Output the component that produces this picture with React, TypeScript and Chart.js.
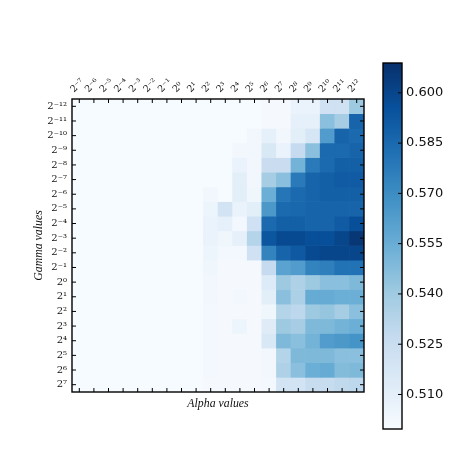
import { useEffect, useRef } from "react";
import { Chart, registerables } from "chart.js";

Chart.register(...registerables);

const alphaLabels = ["2⁻⁷", "2⁻⁶", "2⁻⁵", "2⁻⁴", "2⁻³", "2⁻²", "2⁻¹", "2⁰", "2¹", "2²", "2³", "2⁴", "2⁵", "2⁶", "2⁷", "2⁸", "2⁹", "2¹⁰", "2¹¹", "2¹²"];
const gammaLabels = ["2⁻¹²", "2⁻¹¹", "2⁻¹⁰", "2⁻⁹", "2⁻⁸", "2⁻⁷", "2⁻⁶", "2⁻⁵", "2⁻⁴", "2⁻³", "2⁻²", "2⁻¹", "2⁰", "2¹", "2²", "2³", "2⁴", "2⁵", "2⁶", "2⁷"];

// one row per gamma, one column per alpha
const scores = [
  [.5, .5, .5, .5, .5, .5, .5, .5, .5, .5, .5, .5, .5, .501, .501, .507, .507, .522, .522, .541],
  [.5, .5, .5, .5, .5, .5, .5, .5, .5, .5, .5, .5, .5, .501, .501, .509, .509, .546, .538, .587],
  [.5, .5, .5, .5, .5, .5, .5, .5, .5, .5, .5, .5, .503, .509, .503, .511, .518, .563, .587, .585],
  [.5, .5, .5, .5, .5, .5, .5, .5, .5, .5, .5, .503, .503, .516, .507, .527, .546, .585, .585, .587],
  [.5, .5, .5, .5, .5, .5, .5, .5, .5, .5, .5, .507, .503, .525, .525, .552, .578, .585, .589, .589],
  [.5, .5, .5, .5, .5, .5, .5, .5, .5, .5, .5, .511, .503, .538, .546, .578, .587, .589, .591, .591],
  [.5, .5, .5, .5, .5, .5, .5, .5, .5, .503, .5, .511, .504, .554, .58, .585, .587, .589, .589, .589],
  [.5, .5, .5, .5, .5, .5, .5, .5, .5, .505, .52, .507, .511, .565, .585, .586, .587, .587, .587, .587],
  [.5, .5, .5, .5, .5, .5, .5, .5, .5, .507, .509, .502, .522, .585, .589, .589, .587, .587, .591, .596],
  [.5, .5, .5, .5, .5, .5, .5, .5, .5, .507, .504, .509, .533, .593, .598, .598, .596, .596, .6, .606],
  [.5, .5, .5, .5, .5, .5, .5, .5, .5, .505, .502, .502, .522, .574, .587, .592, .598, .6, .6, .6],
  [.5, .5, .5, .5, .5, .5, .5, .5, .5, .504, .501, .501, .501, .527, .56, .563, .574, .576, .581, .581],
  [.5, .5, .5, .5, .5, .5, .5, .5, .5, .503, .501, .501, .501, .514, .541, .535, .541, .546, .546, .549],
  [.5, .5, .5, .5, .5, .5, .5, .5, .5, .503, .501, .503, .501, .511, .546, .536, .556, .556, .554, .554],
  [.5, .5, .5, .5, .5, .5, .5, .5, .5, .502, .501, .501, .501, .504, .533, .53, .541, .543, .538, .546],
  [.5, .5, .5, .5, .5, .5, .5, .5, .5, .502, .501, .505, .501, .513, .541, .538, .549, .549, .552, .554],
  [.5, .5, .5, .5, .5, .5, .5, .5, .5, .502, .501, .501, .501, .516, .549, .546, .552, .563, .565, .567],
  [.5, .5, .5, .5, .5, .5, .5, .5, .5, .502, .501, .501, .501, .503, .533, .549, .549, .549, .546, .546],
  [.5, .5, .5, .5, .5, .5, .5, .5, .5, .502, .501, .501, .501, .503, .535, .546, .554, .556, .548, .549],
  [.5, .5, .5, .5, .5, .5, .5, .5, .5, .501, .501, .501, .501, .502, .52, .52, .526, .526, .529, .53],
];

const colorbarTicks = [0.51, 0.525, 0.54, 0.555, 0.57, 0.585, 0.6];
const vMin = 0.4997;
const vMax = 0.6089;

// matplotlib "Blues"
const blues = ["#f7fbff", "#deebf7", "#c6dbef", "#9ecae1", "#6baed6", "#4292c6", "#2171b5", "#08519c", "#08306b"];

function blueFor(v: number) {
  const t = Math.min(1, Math.max(0, (v - vMin) / (vMax - vMin))) * (blues.length - 1);
  const i = Math.min(blues.length - 2, Math.floor(t));
  const mix = (k: number) => {
    const a = parseInt(blues[i].slice(k, k + 2), 16);
    const b = parseInt(blues[i + 1].slice(k, k + 2), 16);
    return Math.round(a + (b - a) * (t - i));
  };
  return `rgb(${mix(1)},${mix(3)},${mix(5)})`;
}

// old matplotlib look: ticks point inwards, black frame. the colorbar only has them on the right
const frameTicks = {
  id: "frameTicks",
  afterDatasetsDraw(chart: any, _args: any, opts: any) {
    const { ctx, chartArea: a, scales } = chart;
    ctx.save();
    ctx.strokeStyle = "#000";
    ctx.lineWidth = 1;
    ctx.beginPath();
    if (opts.full) {
      scales.x.ticks.forEach((_: any, i: number) => {
        const px = scales.x.getPixelForTick(i);
        ctx.moveTo(px, a.top);
        ctx.lineTo(px, a.top + 4);
        ctx.moveTo(px, a.bottom);
        ctx.lineTo(px, a.bottom - 4);
      });
    }
    scales.y.ticks.forEach((_: any, i: number) => {
      const py = scales.y.getPixelForTick(i);
      if (opts.full) {
        ctx.moveTo(a.left, py);
        ctx.lineTo(a.left + 4, py);
      }
      ctx.moveTo(a.right, py);
      ctx.lineTo(a.right - 4, py);
    });
    ctx.stroke();
    ctx.lineWidth = 1.4;
    ctx.strokeRect(a.left, a.top, a.right - a.left, a.bottom - a.top);
    ctx.restore();
  },
};

const serif = "'DejaVu Serif', serif";
const titleFont = { family: "'Liberation Serif', serif", size: 11.8, style: "italic" };

export default function App() {
  const heatRef = useRef<HTMLCanvasElement>(null);
  const barRef = useRef<HTMLCanvasElement>(null);

  useEffect(() => {
    if (!heatRef.current || !barRef.current) return;

    const heat = new Chart(heatRef.current, {
      type: "bar",
      data: {
        labels: alphaLabels,
        datasets: scores.map((row, r) => ({
          data: row.map(() => [r - 0.5, r + 0.5]),
          backgroundColor: row.map(blueFor),
          borderWidth: 0,
          grouped: false,
          barPercentage: 1,
          categoryPercentage: 1,
        })) as any,
      },
      options: {
        animation: false,
        responsive: false,
        devicePixelRatio: 1,
        layout: { padding: { left: 32, right: 110, top: 0, bottom: 60 } },
        plugins: { legend: { display: false }, tooltip: { enabled: false }, frameTicks: { full: true } } as any,
        scales: {
          x: {
            position: "top",
            grid: { display: false, drawTicks: false },
            border: { display: false },
            ticks: {
              autoSkip: false,
              minRotation: 45,
              maxRotation: 45,
              padding: 4,
              labelOffset: 1,
              color: "#111",
              font: { family: serif, size: 9.5 },
            },
            afterFit: (s: any) => { s.height = 99; },
          },
          x2: {
            type: "category",
            position: "bottom",
            labels: alphaLabels,
            grid: { display: false, drawTicks: false },
            border: { display: false },
            ticks: { display: false },
            title: {
              display: true,
              text: "Alpha values",
              color: "#111",
              font: titleFont,
              padding: { top: 5, bottom: 0 },
            },
            afterFit: (s: any) => { s.height = 19; },
          },
          y: {
            type: "linear",
            reverse: true,
            min: -0.5,
            max: 19.5,
            grid: { display: false, drawTicks: false },
            border: { display: false },
            afterBuildTicks: (s: any) => { s.ticks = gammaLabels.map((_, i) => ({ value: i })); },
            ticks: {
              autoSkip: false,
              padding: 5,
              color: "#111",
              font: { family: serif, size: 10 },
              callback: (v: any) => gammaLabels[v],
            },
            title: {
              display: true,
              text: "Gamma values",
              color: "#111",
              font: titleFont,
              padding: { top: 0, bottom: 0 },
            },
            afterFit: (s: any) => { s.width = 40; },
          },
        },
      } as any,
      plugins: [frameTicks],
    });

    const bar = new Chart(barRef.current, {
      type: "bar",
      data: {
        labels: ["score"],
        datasets: [
          {
            data: [[vMin, vMax]],
            barPercentage: 1,
            categoryPercentage: 1,
            borderWidth: 0,
            backgroundColor: (c: any) => {
              const { ctx, chartArea } = c.chart;
              if (!chartArea) return blues[4];
              const g = ctx.createLinearGradient(0, chartArea.bottom, 0, chartArea.top);
              blues.forEach((b, i) => g.addColorStop(i / (blues.length - 1), b));
              return g;
            },
          },
        ] as any,
      },
      options: {
        animation: false,
        responsive: false,
        devicePixelRatio: 1,
        layout: { padding: { left: 383, right: 0, top: 63, bottom: 42 } },
        plugins: { legend: { display: false }, tooltip: { enabled: false }, frameTicks: { full: false } } as any,
        scales: {
          x: { display: false },
          y: {
            position: "right",
            min: vMin,
            max: vMax,
            grid: { display: false, drawTicks: false },
            border: { display: false },
            afterBuildTicks: (s: any) => { s.ticks = colorbarTicks.map((value) => ({ value })); },
            ticks: {
              padding: 4,
              color: "#111",
              font: { family: "'DejaVu Sans', sans-serif", size: 13 },
              callback: (v: any) => Number(v).toFixed(3),
            },
            afterFit: (s: any) => { s.width = 72; },
          },
        },
      } as any,
      plugins: [frameTicks],
    });

    return () => {
      heat.destroy();
      bar.destroy();
    };
  }, []);

  const box = { position: "absolute", left: 0, top: 0 } as const;
  return (
    <div style={{ ...box, width: 474, height: 471, background: "#fff" }}>
      <canvas ref={heatRef} width={474} height={471} style={box} />
      <canvas ref={barRef} width={474} height={471} style={box} />
    </div>
  );
}
